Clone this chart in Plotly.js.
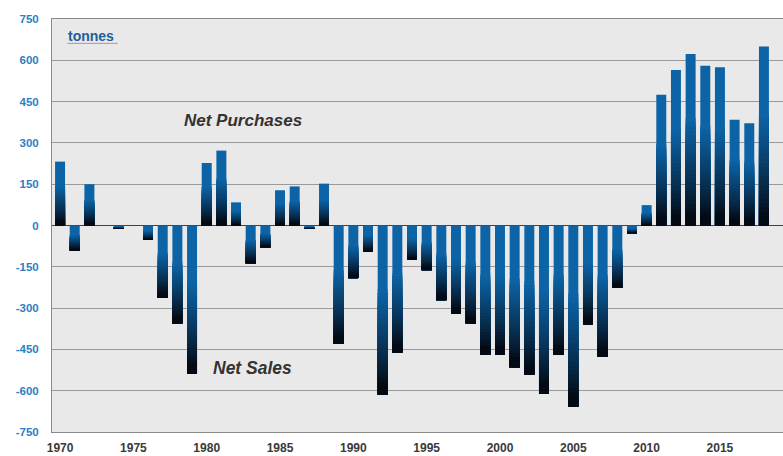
<!DOCTYPE html>
<html>
<head>
<meta charset="utf-8">
<script src="https://cdn.plot.ly/plotly-3.0.1.min.js"></script>
<style>html,body{margin:0;padding:0;background:#fff;}#chart{width:783px;height:456px;}</style>
</head>
<body>
<div id="chart"></div>
<script>
// Years and net purchases (+) / sales (-) in tonnes
const years = [];
for (let y = 1970; y <= 2018; y++) years.push(y);
const netTonnes = [
  232, -90, 150, 0, -12, 0, -52, -263, -355, -537,   // 1970-1979
  227, 272, 84, -137, -79, 128, 142, -12, 152, -429, // 1980-1989
  -191, -94, -614, -461, -124, -162, -271, -319, -355, -470, // 1990-1999
  -470, -515, -541, -612, -470, -657, -359, -476, -227, -28, // 2000-2009
  74, 475, 565, 623, 580, 575, 384, 371, 650          // 2010-2018
];
const yTicks = [-750, -600, -450, -300, -150, 0, 150, 300, 450, 600, 750];

const BLUE = [12, 99, 166];
const BLACK = [4, 10, 20];
function mix(t) {
  const c = BLACK.map((b, i) => Math.round(b + (BLUE[i] - b) * t));
  return 'rgb(' + c.join(',') + ')';
}
function shade(d) { // d: fraction of bar height measured from its bottom edge
  let t = Math.min(1, Math.max(0, (d - 0.06) / 0.55));
  return mix(Math.pow(t, 0.85));
}

const BW = 0.68;
const traces = [{
  type: 'bar', x: years, y: netTonnes, width: BW,
  marker: {color: mix(1), line: {width: 0}}, hoverinfo: 'x+y'
}];
// gradient: nested layers anchored at each bar's bottom edge, shorter = darker
const N = 40;
for (let k = 0; k < N; k++) {
  const s = 1 - k / N;            // layer height as fraction of the bar
  if (s > 0.63) continue;          // fully blue above this
  const bases = [], lens = [], cols = [];
  netTonnes.forEach(v => {
    const a = Math.abs(v);
    bases.push(v >= 0 ? 0 : v);
    lens.push(a * s);
    cols.push(shade(s - 0.5 / N));
  });
  traces.push({
    type: 'bar', x: years, y: lens, base: bases, width: BW,
    marker: {color: cols, line: {width: 0}}, hoverinfo: 'skip'
  });
}

const layout = {
  width: 783, height: 456,
  margin: {l: 52, r: 0, t: 19, b: 24},
  paper_bgcolor: '#ffffff',
  plot_bgcolor: '#e9e9e9',
  barmode: 'overlay',
  showlegend: false,
  font: {family: 'Arial, "Liberation Sans", sans-serif'},
  xaxis: {
    range: [1969.45, 2019.3],
    tickmode: 'linear', tick0: 1970, dtick: 5,
    showgrid: false, zeroline: false,
    showline: true, mirror: true, linecolor: '#8a8a8a', linewidth: 1,
    ticks: '', ticklabelstandoff: 5,
    tickfont: {size: 12, color: '#3a3a3a', weight: 'bold'}
  },
  yaxis: {
    range: [-750, 750],
    tickmode: 'array', tickvals: yTicks, ticktext: yTicks.map(String),
    showgrid: true, gridcolor: '#9a9a9a', gridwidth: 1,
    zeroline: true, zerolinecolor: '#5a3a30', zerolinewidth: 1.5,
    showline: true, linecolor: '#8a8a8a', linewidth: 1,
    ticks: '', ticklabelstandoff: 10,
    tickfont: {size: 11.5, color: '#2a80c4', weight: 'bold'}
  },
  annotations: [
    {xref: 'paper', yref: 'paper', x: 0.019, y: 0.96, xanchor: 'left', yanchor: 'middle',
     text: '<b>tonnes</b>', showarrow: false, font: {size: 14, color: '#1d5f9e'}},
    {xref: 'paper', yref: 'paper', x: 0.261, y: 0.755, xanchor: 'center', yanchor: 'middle',
     text: '<b><i>Net Purchases</i></b>', showarrow: false, font: {size: 17, color: '#333333'}},
    {xref: 'paper', yref: 'paper', x: 0.274, y: 0.155, xanchor: 'center', yanchor: 'middle',
     text: '<b><i>Net Sales</i></b>', showarrow: false, font: {size: 17.5, color: '#333333'}}
  ],
  shapes: [
    {type: 'line', xref: 'paper', yref: 'paper', x0: 0.021, x1: 0.090, y0: 0.941, y1: 0.941,
     line: {color: '#e07a90', width: 1}}
  ]
};

Plotly.newPlot('chart', traces, layout, {displayModeBar: false, staticPlot: true});
</script>
</body>
</html>
